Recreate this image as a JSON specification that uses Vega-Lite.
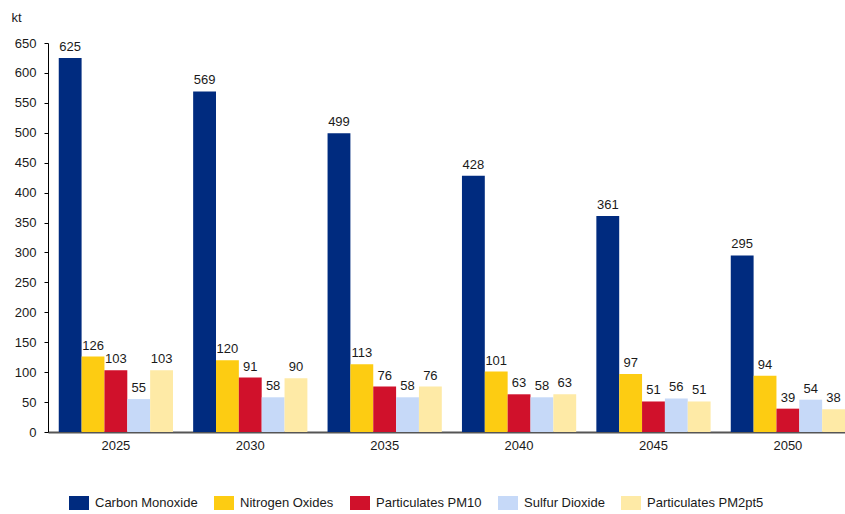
{
  "$schema": "https://vega.github.io/schema/vega-lite/v6.json",
  "autosize": "none",
  "width": 797,
  "height": 389,
  "padding": {"left": 48, "top": 43, "right": 0, "bottom": 82},
  "background": "white",
  "config": {
    "font": "Liberation Sans",
    "view": {"stroke": null},
    "axis": {"grid": false, "labelFont": "Liberation Sans", "labelFontSize": 13, "labelColor": "#1a1a1a", "titleFont": "Liberation Sans"}
  },
  "data": {
    "values": [
      {"year": "2025", "pollutant": "Carbon Monoxide", "kt": 625},
      {"year": "2025", "pollutant": "Nitrogen Oxides", "kt": 126},
      {"year": "2025", "pollutant": "Particulates PM10", "kt": 103},
      {"year": "2025", "pollutant": "Sulfur Dioxide", "kt": 55},
      {"year": "2025", "pollutant": "Particulates PM2pt5", "kt": 103},
      {"year": "2030", "pollutant": "Carbon Monoxide", "kt": 569},
      {"year": "2030", "pollutant": "Nitrogen Oxides", "kt": 120},
      {"year": "2030", "pollutant": "Particulates PM10", "kt": 91},
      {"year": "2030", "pollutant": "Sulfur Dioxide", "kt": 58},
      {"year": "2030", "pollutant": "Particulates PM2pt5", "kt": 90},
      {"year": "2035", "pollutant": "Carbon Monoxide", "kt": 499},
      {"year": "2035", "pollutant": "Nitrogen Oxides", "kt": 113},
      {"year": "2035", "pollutant": "Particulates PM10", "kt": 76},
      {"year": "2035", "pollutant": "Sulfur Dioxide", "kt": 58},
      {"year": "2035", "pollutant": "Particulates PM2pt5", "kt": 76},
      {"year": "2040", "pollutant": "Carbon Monoxide", "kt": 428},
      {"year": "2040", "pollutant": "Nitrogen Oxides", "kt": 101},
      {"year": "2040", "pollutant": "Particulates PM10", "kt": 63},
      {"year": "2040", "pollutant": "Sulfur Dioxide", "kt": 58},
      {"year": "2040", "pollutant": "Particulates PM2pt5", "kt": 63},
      {"year": "2045", "pollutant": "Carbon Monoxide", "kt": 361},
      {"year": "2045", "pollutant": "Nitrogen Oxides", "kt": 97},
      {"year": "2045", "pollutant": "Particulates PM10", "kt": 51},
      {"year": "2045", "pollutant": "Sulfur Dioxide", "kt": 56},
      {"year": "2045", "pollutant": "Particulates PM2pt5", "kt": 51},
      {"year": "2050", "pollutant": "Carbon Monoxide", "kt": 295},
      {"year": "2050", "pollutant": "Nitrogen Oxides", "kt": 94},
      {"year": "2050", "pollutant": "Particulates PM10", "kt": 39},
      {"year": "2050", "pollutant": "Sulfur Dioxide", "kt": 54},
      {"year": "2050", "pollutant": "Particulates PM2pt5", "kt": 38}
    ]
  },
  "encoding": {
    "x": {
      "field": "year", "type": "nominal",
      "scale": {"paddingInner": 0.15, "paddingOuter": 0.04, "align": 1},
      "axis": {"title": null, "labelAngle": 0, "ticks": false, "domainColor": "#555555", "domainWidth": 2, "labelPadding": 7}
    },
    "xOffset": {
      "field": "pollutant", "type": "nominal",
      "sort": ["Carbon Monoxide", "Nitrogen Oxides", "Particulates PM10", "Sulfur Dioxide", "Particulates PM2pt5"],
      "scale": {"paddingInner": 0, "paddingOuter": 0}
    },
    "y": {
      "field": "kt", "type": "quantitative",
      "scale": {"domain": [0, 650], "nice": false},
      "axis": {
        "values": [0, 50, 100, 150, 200, 250, 300, 350, 400, 450, 500, 550, 600, 650],
        "title": "kt", "titleAngle": 0, "titleAlign": "left", "titleBaseline": "middle",
        "titleX": -37, "titleY": -26, "titleFontSize": 13, "titleFontWeight": "normal", "titleColor": "#1a1a1a",
        "domainColor": "#000000", "domainWidth": 1, "tickColor": "#000000", "tickSize": 4, "labelPadding": 8
      }
    }
  },
  "layer": [
    {
      "mark": {"type": "bar"},
      "encoding": {
        "color": {
          "field": "pollutant", "type": "nominal",
          "sort": ["Carbon Monoxide", "Nitrogen Oxides", "Particulates PM10", "Sulfur Dioxide", "Particulates PM2pt5"],
          "scale": {
            "domain": ["Carbon Monoxide", "Nitrogen Oxides", "Particulates PM10", "Sulfur Dioxide", "Particulates PM2pt5"],
            "range": ["#002B7F", "#FDCC12", "#D0112B", "#C6D9F8", "#FEEAA6"]
          },
          "legend": {
            "title": null, "orient": "none", "direction": "horizontal",
            "legendX": 21, "legendY": 450, "padding": 0,
            "symbolType": "M-1,-0.7H1V0.7H-1Z", "symbolSize": 400, "symbolStrokeWidth": 0,
            "labelFont": "Liberation Sans", "labelFontSize": 13, "labelColor": "#1a1a1a",
            "labelOffset": 6, "columnPadding": 16, "columns": 5
          }
        }
      }
    },
    {
      "mark": {"type": "text", "baseline": "bottom", "dy": -4, "fontSize": 13, "font": "Liberation Sans", "color": "#1a1a1a"},
      "encoding": {"text": {"field": "kt", "type": "quantitative"}}
    }
  ]
}
